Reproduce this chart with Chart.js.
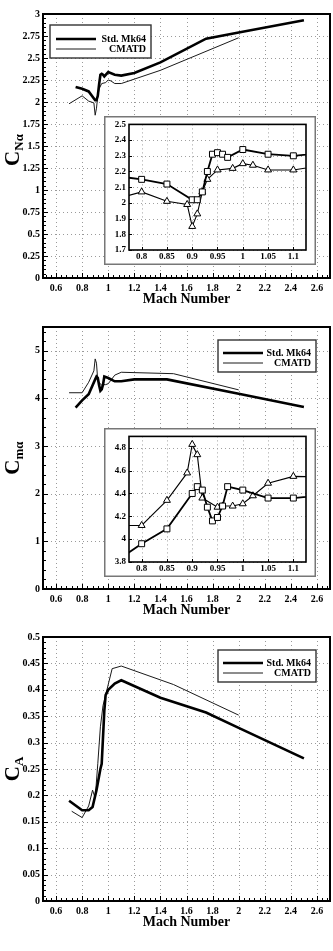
<!DOCTYPE html>
<html><head><meta charset="utf-8">
<script src="https://cdn.jsdelivr.net/npm/chart.js@4.4.1/dist/chart.umd.min.js"></script>
<style>
html,body{margin:0;padding:0;background:#fff;}
#wrap{position:relative;width:333px;height:951px;overflow:hidden;background:#fff;}
canvas{position:absolute;}
</style></head><body>
<div id="wrap">
<canvas id="m1"></canvas><canvas id="m2"></canvas><canvas id="m3"></canvas>
<canvas id="i1"></canvas><canvas id="i2"></canvas>
</div>
<script>
// ---------- DATA ----------
const seriesNames = ['Std. Mk64', 'CMATD'];
const machTicks = [0.6, 0.8, 1, 1.2, 1.4, 1.6, 1.8, 2, 2.2, 2.4, 2.6];
const insetMachTicks = [0.8, 0.85, 0.9, 0.95, 1, 1.05, 1.1];

// C_N alpha
const cnaTicks = [0, 0.25, 0.5, 0.75, 1, 1.25, 1.5, 1.75, 2, 2.25, 2.5, 2.75, 3];
const cnaInsetTicks = [1.7, 1.8, 1.9, 2, 2.1, 2.2, 2.3, 2.4, 2.5];
const cnaStdMach = [0.75, 0.8, 0.85, 0.9, 0.91, 0.92, 0.93, 0.94, 0.95, 0.96, 0.97, 1.0, 1.05, 1.1, 1.2, 1.4, 1.75, 2.0, 2.5];
const cnaStd     = [2.17, 2.15, 2.12, 2.02, 2.02, 2.07, 2.20, 2.31, 2.32, 2.31, 2.29, 2.34, 2.31, 2.30, 2.33, 2.45, 2.72, 2.79, 2.93];
const cnaCmMach  = [0.7, 0.8, 0.85, 0.89, 0.9, 0.91, 0.92, 0.93, 0.95, 0.98, 1.0, 1.02, 1.05, 1.1, 1.4, 2.0];
const cnaCm      = [1.98, 2.07, 2.01, 1.99, 1.85, 1.93, 2.07, 2.15, 2.21, 2.22, 2.25, 2.24, 2.21, 2.21, 2.36, 2.73];

// C_m alpha
const cmaTicks = [0, 1, 2, 3, 4, 5];
const cmaInsetTicks = [3.8, 4, 4.2, 4.4, 4.6, 4.8];
const cmaStdMach = [0.75, 0.8, 0.85, 0.9, 0.91, 0.92, 0.93, 0.94, 0.95, 0.96, 0.97, 1.0, 1.05, 1.1, 1.2, 1.45, 2.0, 2.5];
const cmaStd     = [3.81, 3.96, 4.09, 4.40, 4.46, 4.43, 4.28, 4.16, 4.19, 4.29, 4.46, 4.43, 4.36, 4.36, 4.40, 4.40, 4.10, 3.82];
const cmaCmMach  = [0.7, 0.8, 0.85, 0.89, 0.9, 0.91, 0.92, 0.95, 0.96, 0.98, 1.0, 1.02, 1.05, 1.1, 1.5, 2.0];
const cmaCm      = [4.12, 4.12, 4.34, 4.58, 4.83, 4.74, 4.36, 4.28, 4.29, 4.29, 4.31, 4.38, 4.49, 4.55, 4.52, 4.18];

// C_A
const caTicks = [0, 0.05, 0.1, 0.15, 0.2, 0.25, 0.3, 0.35, 0.4, 0.45, 0.5];
const caStdMach = [0.7, 0.8, 0.85, 0.88, 0.91, 0.94, 0.95, 0.97, 0.98, 1.0, 1.05, 1.1, 1.4, 1.75, 2.0, 2.5];
const caStd     = [0.19, 0.172, 0.172, 0.178, 0.21, 0.25, 0.26, 0.36, 0.39, 0.40, 0.412, 0.418, 0.385, 0.357, 0.328, 0.27];
const caCmMach  = [0.72, 0.8, 0.85, 0.88, 0.9, 0.92, 0.94, 0.96, 1.03, 1.1, 1.5, 2.0];
const caCm      = [0.17, 0.158, 0.18, 0.21, 0.195, 0.26, 0.33, 0.37, 0.44, 0.445, 0.41, 0.352];

// ---------- HELPERS ----------
const FONT = "'Liberation Serif','Times New Roman',serif";
const zip = (xs, ys) => xs.map((x, i) => ({x, y: ys[i]}));

const deco = {
  id: 'deco',
  beforeDraw(chart, args, o) {
    const {ctx, width, height} = chart;
    ctx.save();
    ctx.fillStyle = '#fff';
    ctx.fillRect(0, 0, width, height);
    if (o.box) {
      ctx.strokeStyle = '#777';
      ctx.lineWidth = 1.5;
      ctx.strokeRect(0.75, 0.75, width - 1.5, height - 1.5);
    }
    ctx.restore();
  },
  beforeDatasetsDraw(chart, args, o) {
    const {ctx, chartArea: a, scales: {x, y}} = chart;
    ctx.save();
    ctx.strokeStyle = o.gridColor || '#9a9a9a';
    ctx.lineWidth = 1;
    ctx.setLineDash([1, 3]);
    ctx.beginPath();
    x.ticks.forEach(t => { const p = Math.round(x.getPixelForValue(t.value)) + 0.5; ctx.moveTo(p, a.top); ctx.lineTo(p, a.bottom); });
    y.ticks.forEach(t => { const p = Math.round(y.getPixelForValue(t.value)) + 0.5; ctx.moveTo(a.left, p); ctx.lineTo(a.right, p); });
    ctx.stroke();
    ctx.restore();
  },
  afterDatasetsDraw(chart, args, o) {
    const {ctx, chartArea: a, scales: {x, y}} = chart;
    ctx.save();
    ctx.setLineDash([]);
    ctx.strokeStyle = '#000';
    // ticks inward
    ctx.lineWidth = 1;
    ctx.beginPath();
    const tickSet = (scale, step, len, horiz) => {
      const n0 = Math.ceil(scale.min / step - 1e-6), n1 = Math.floor(scale.max / step + 1e-6);
      for (let n = n0; n <= n1; n++) {
        const p = Math.round(scale.getPixelForValue(n * step)) + 0.5;
        if (horiz) { ctx.moveTo(p, a.bottom); ctx.lineTo(p, a.bottom - len); }
        else { ctx.moveTo(a.left, p); ctx.lineTo(a.left + len, p); }
      }
    };
    if (o.xMinor) tickSet(x, o.xMinor, o.minorLen, true);
    if (o.yMinor) tickSet(y, o.yMinor, o.minorLen, false);
    x.ticks.forEach(t => { const p = Math.round(x.getPixelForValue(t.value)) + 0.5; ctx.moveTo(p, a.bottom); ctx.lineTo(p, a.bottom - o.majorLen); });
    y.ticks.forEach(t => { const p = Math.round(y.getPixelForValue(t.value)) + 0.5; ctx.moveTo(a.left, p); ctx.lineTo(a.left + o.majorLen, p); });
    ctx.stroke();
    // frame
    ctx.lineWidth = o.frameWidth;
    ctx.strokeRect(a.left, a.top, a.right - a.left, a.bottom - a.top);
    // legend
    if (o.legend) {
      const L = o.legend;
      const bx = L.anchor === 'left' ? a.left + L.dx : a.right - L.dx - L.w;
      const by = a.top + L.dy;
      ctx.fillStyle = '#fff';
      ctx.fillRect(bx, by, L.w, L.h);
      ctx.strokeStyle = '#333';
      ctx.lineWidth = 1.4;
      ctx.strokeRect(bx, by, L.w, L.h);
      chart.data.datasets.forEach((ds, i) => {
        const ly = by + L.row0 + i * L.rowGap;
        ctx.strokeStyle = ds.borderColor;
        ctx.lineWidth = ds.borderWidth;
        ctx.beginPath();
        ctx.moveTo(bx + L.lineX0, ly); ctx.lineTo(bx + L.lineX1, ly);
        ctx.stroke();
        ctx.fillStyle = '#000';
        ctx.font = 'bold 10px ' + FONT;
        ctx.textAlign = 'right';
        ctx.textBaseline = 'middle';
        ctx.fillText(ds.label, bx + L.w - L.textPad, ly + 0.5);
      });
    }
    // y title with subscript
    if (o.ytitle) {
      const T = o.ytitle;
      ctx.translate(T.x, (a.top + a.bottom) / 2 + (T.dy || 0));
      ctx.rotate(-Math.PI / 2);
      ctx.fillStyle = '#000';
      ctx.textBaseline = 'alphabetic';
      ctx.textAlign = 'left';
      ctx.font = 'bold 21px ' + FONT;
      const wc = ctx.measureText(T.main).width;
      ctx.font = 'bold 13px ' + FONT;
      const ws = ctx.measureText(T.sub).width;
      const x0 = -(wc + ws) / 2;
      ctx.font = 'bold 21px ' + FONT;
      ctx.fillText(T.main, x0, 7);
      ctx.font = 'bold 13px ' + FONT;
      ctx.fillText(T.sub, x0 + wc, 11);
    }
    ctx.restore();
  }
};

function tickFont(size) { return {family: FONT, size: size, weight: 'bold'}; }

function makeMain(id, o) {
  const cv = document.getElementById(id);
  cv.width = 333; cv.height = o.height;
  cv.style.left = '0px'; cv.style.top = o.top + 'px';
  return new Chart(cv, {
    type: 'line',
    data: {datasets: [
      {label: seriesNames[0], data: zip(o.sx, o.sy), borderColor: '#000', borderWidth: 2.6, pointRadius: 0, tension: 0},
      {label: seriesNames[1], data: zip(o.cx, o.cy), borderColor: '#1a1a1a', borderWidth: 1, pointRadius: 0, tension: 0}
    ]},
    options: {
      responsive: false, animation: false, devicePixelRatio: 1,
      layout: {padding: {top: o.padTop, right: 3, left: 0, bottom: 0}},
      plugins: {legend: {display: false}, tooltip: {enabled: false},
        deco: {frameWidth: 2, majorLen: 5, minorLen: 3, xMinor: 0.04, yMinor: o.yMinor, legend: o.legend, ytitle: o.ytitle}},
      scales: {
        x: {type: 'linear', min: 0.5, max: 2.7,
          afterBuildTicks: s => { s.ticks = machTicks.map(v => ({value: v})); },
          afterFit: s => { s.height = 32; },
          grid: {display: false, drawTicks: false}, border: {display: false},
          ticks: {font: tickFont(10), color: '#000', padding: 4, maxRotation: 0, autoSkip: false, callback: v => String(v)},
          title: {display: true, text: 'Mach Number', font: {family: FONT, size: 14, weight: 'bold', lineHeight: 1}, color: '#000', padding: {top: 0, bottom: 4}}
        },
        y: {type: 'linear', min: o.ymin, max: o.ymax,
          afterBuildTicks: s => { s.ticks = o.yticks.map(v => ({value: v})); },
          afterFit: s => { s.width = 43; },
          grid: {display: false, drawTicks: false}, border: {display: false},
          ticks: {font: tickFont(10), color: '#000', padding: 3, autoSkip: false, callback: v => String(v)}
        }
      }
    },
    plugins: [deco]
  });
}

function makeInset(id, o) {
  const cv = document.getElementById(id);
  cv.width = 212; cv.height = 149;
  cv.style.left = '104px'; cv.style.top = o.top + 'px';
  const mk = {pointBackgroundColor: '#fff', pointBorderColor: '#000', pointBorderWidth: 1, tension: 0, borderColor: '#000'};
  return new Chart(cv, {
    type: 'line',
    data: {datasets: [
      Object.assign({label: seriesNames[0], data: zip(o.sx, o.sy), borderWidth: 1.8, pointStyle: 'rect', pointRadius: 4.2}, mk),
      Object.assign({label: seriesNames[1], data: zip(o.cx, o.cy), borderWidth: 1.1, pointStyle: 'triangle', pointRadius: 4}, mk)
    ]},
    options: {
      responsive: false, animation: false, devicePixelRatio: 1,
      layout: {padding: {top: 7, right: 10, left: 0, bottom: 0}},
      plugins: {legend: {display: false}, tooltip: {enabled: false},
        deco: {box: true, frameWidth: 1.6, majorLen: 3, minorLen: 0, gridColor: '#a0a0a0'}},
      scales: {
        x: {type: 'linear', min: 0.775, max: 1.125,
          afterBuildTicks: s => { s.ticks = insetMachTicks.map(v => ({value: v})); },
          afterFit: s => { s.height = 15; },
          grid: {display: false, drawTicks: false}, border: {display: false},
          ticks: {font: tickFont(9), color: '#000', padding: 1, maxRotation: 0, autoSkip: false, callback: v => String(v)}
        },
        y: {type: 'linear', min: o.ymin, max: o.ymax,
          afterBuildTicks: s => { s.ticks = o.yticks.map(v => ({value: v})); },
          afterFit: s => { s.width = 25; },
          grid: {display: false, drawTicks: false}, border: {display: false},
          ticks: {font: tickFont(9), color: '#000', padding: 3, autoSkip: false, callback: v => String(v)}
        }
      }
    },
    plugins: [deco]
  });
}

const legendLeft = {anchor: 'left', dx: 7, dy: 11, w: 101, h: 33, row0: 14, rowGap: 10, lineX0: 6, lineX1: 46, textPad: 5};
const legendRight = {anchor: 'right', dx: 14, dy: 13, w: 98, h: 32, row0: 13, rowGap: 10, lineX0: 5, lineX1: 45, textPad: 5};

makeMain('m1', {top: 0, height: 310, padTop: 14, ymin: 0, ymax: 3, yticks: cnaTicks, yMinor: 0.05,
  sx: cnaStdMach, sy: cnaStd, cx: cnaCmMach, cy: cnaCm, legend: legendLeft, ytitle: {x: 12, main: 'C', sub: 'N\u03B1', dy: 4}});
makeMain('m2', {top: 310, height: 311, padTop: 17, ymin: 0, ymax: 5.5, yticks: cmaTicks, yMinor: 0.2,
  sx: cmaStdMach, sy: cmaStd, cx: cmaCmMach, cy: cmaCm, legend: legendRight, ytitle: {x: 12, main: 'C', sub: 'm\u03B1'}});
makeMain('m3', {top: 622, height: 311, padTop: 15, ymin: 0, ymax: 0.5, yticks: caTicks, yMinor: 0.01,
  sx: caStdMach, sy: caStd, cx: caCmMach, cy: caCm, legend: legendRight, ytitle: {x: 12, main: 'C', sub: 'A'}});

makeInset('i1', {top: 116, ymin: 1.7, ymax: 2.5, yticks: cnaInsetTicks, sx: cnaStdMach, sy: cnaStd, cx: cnaCmMach, cy: cnaCm});
makeInset('i2', {top: 428, ymin: 3.8, ymax: 4.9, yticks: cmaInsetTicks, sx: cmaStdMach, sy: cmaStd, cx: cmaCmMach, cy: cmaCm});
</script>
</body></html>
